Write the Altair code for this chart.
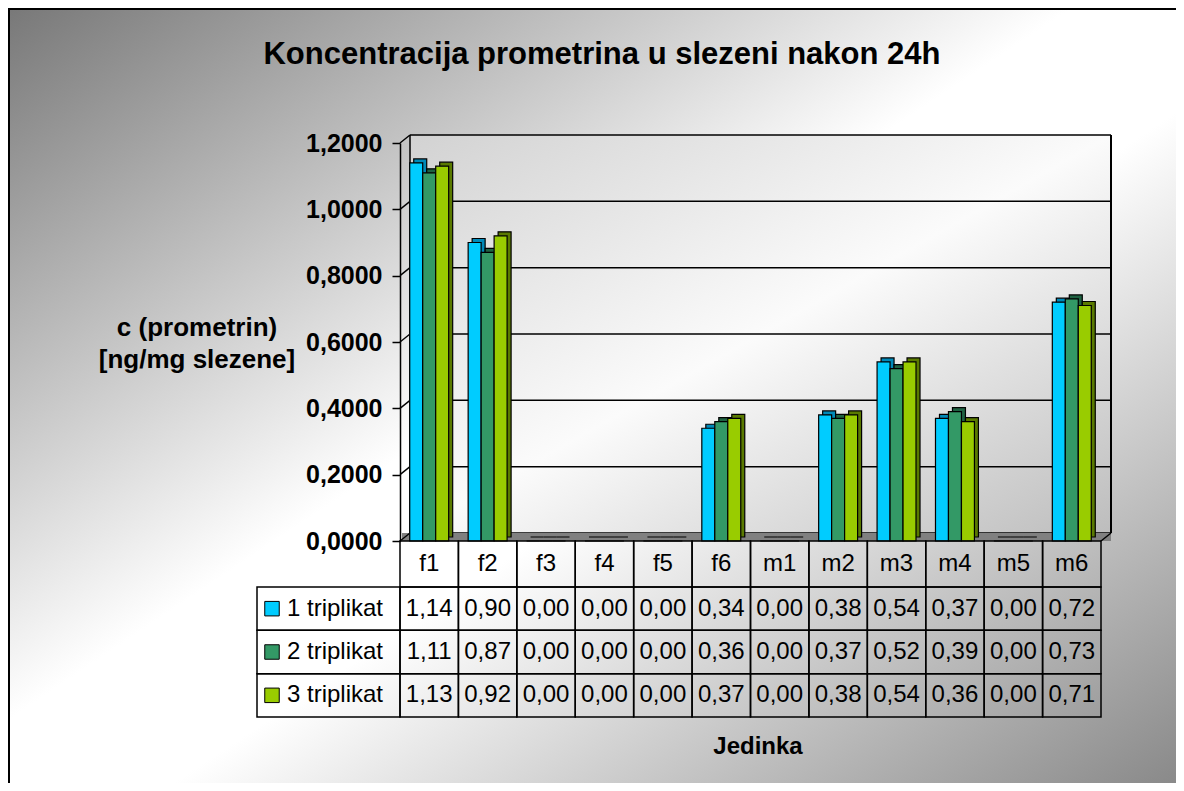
import altair as alt
import pandas as pd

# ---------------- data ----------------
cats = ["f1", "f2", "f3", "f4", "f5", "f6", "m1", "m2", "m3", "m4", "m5", "m6"]
series_names = ["1 triplikat", "2 triplikat", "3 triplikat"]
s1 = [1.14, 0.90, 0.00, 0.00, 0.00, 0.34, 0.00, 0.38, 0.54, 0.37, 0.00, 0.72]
s2 = [1.11, 0.87, 0.00, 0.00, 0.00, 0.36, 0.00, 0.37, 0.52, 0.39, 0.00, 0.73]
s3 = [1.13, 0.92, 0.00, 0.00, 0.00, 0.37, 0.00, 0.38, 0.54, 0.36, 0.00, 0.71]
tick_values = [0.0, 0.2, 0.4, 0.6, 0.8, 1.0, 1.2]
title_text = "Koncentracija prometrina u slezeni nakon 24h"
ytitle_lines = ["c (prometrin)", "[ng/mg slezene]"]
xtitle_text = "Jedinka"

# ---------------- styles ----------------
front_colors = ["#00CCFF", "#339966", "#99CC00"]
side_colors = ["#0089B8", "#1F6242", "#5A7A00"]
FONT = "Liberation Sans"
W, H = 701, 398          # front plane of the plot
DX, DY = 10, 8           # 3-D depth offset of the wall
D3 = 4                   # depth of the bars
LW = 1.5
STEP = W / len(cats)
PAD = {"left": 392, "top": 135, "right": 75, "bottom": 242}

rows = []
for name, vals in zip(series_names, [s1, s2, s3]):
    for c, v in zip(cats, vals):
        rows.append({"cat": c, "series": name, "value": v,
                     "label": f"{v:.2f}".replace(".", ",")})
df = pd.DataFrame(rows)
ticks_df = pd.DataFrame({"v": tick_values})
cats_df = pd.DataFrame({"cat": cats})
ser_df = pd.DataFrame({"series": series_names})
one = pd.DataFrame({"a": [0]})

xs = alt.Scale(domain=cats, paddingInner=0, paddingOuter=0)
ys = alt.Scale(domain=[0, 1.2], nice=False, zero=True)
X = alt.X("cat:N", scale=xs, axis=None)
row_scale = alt.Scale(domain=series_names, range=[444, 574], paddingInner=0, paddingOuter=0)
Yrow = alt.Y("series:N", scale=row_scale, axis=None)

bg_grad = alt.LinearGradient(
    gradient="linear", x1=0, y1=0, x2=1, y2=1,
    stops=[alt.GradientStop(offset=0, color="#787878"),
           alt.GradientStop(offset=0.45, color="#ffffff"),
           alt.GradientStop(offset=0.56, color="#ffffff"),
           alt.GradientStop(offset=1, color="#858585")])
wall_grad = alt.LinearGradient(
    gradient="linear", x1=0, y1=0, x2=1, y2=1,
    stops=[alt.GradientStop(offset=0, color="#d2d2d2"),
           alt.GradientStop(offset=0.5, color="#fbfbfb"),
           alt.GradientStop(offset=1, color="#bdbdbd")])

# background of the whole chart (runs past the right/bottom edge, clipped there)
bg = alt.Chart(one).mark_rect(fill=bg_grad, strokeWidth=0).encode(
    x=alt.value(-392), x2=alt.value(790), y=alt.value(-135), y2=alt.value(656))
border_left = alt.Chart(one).mark_rule(color="black", strokeWidth=2).encode(
    x=alt.value(-391), y=alt.value(-135), y2=alt.value(656))
border_top = alt.Chart(one).mark_rule(color="black", strokeWidth=2).encode(
    x=alt.value(-392), x2=alt.value(790), y=alt.value(-134))

# 3-D wall
wall = alt.Chart(one).mark_rect(fill=wall_grad, strokeWidth=0).encode(
    x=alt.value(DX), x2=alt.value(W + DX), y=alt.value(-DY), y2=alt.value(H - DY))
grid = alt.Chart(ticks_df).mark_rule(color="black", strokeWidth=LW, yOffset=-DY).encode(
    y=alt.Y("v:Q", scale=ys, axis=None), x=alt.value(DX), x2=alt.value(W + DX))
wall_left = alt.Chart(one).mark_rule(color="black", strokeWidth=LW).encode(
    x=alt.value(DX), y=alt.value(-DY), y2=alt.value(H - DY))
wall_right = alt.Chart(one).mark_rule(color="black", strokeWidth=2).encode(
    x=alt.value(W + DX), y=alt.value(-DY), y2=alt.value(H - DY))
floor = alt.Chart(one).mark_rect(fill="#808080", strokeWidth=0).encode(
    x=alt.value(2), x2=alt.value(W + DX), y=alt.value(H - DY), y2=alt.value(H))
tick_diag = alt.Chart(ticks_df).mark_rule(color="black", strokeWidth=LW, y2Offset=-DY).encode(
    y=alt.Y("v:Q", scale=ys, axis=None), y2="v:Q", x=alt.value(0), x2=alt.value(DX))
br_diag = alt.Chart(one).mark_rule(color="black", strokeWidth=LW).encode(
    x=alt.value(W), x2=alt.value(W + DX), y=alt.value(H), y2=alt.value(H - DY))

# bars (a darker copy shifted back/up gives the side and top faces)
xo_back = alt.XOffset("series:N", scale=alt.Scale(
    domain=series_names, paddingInner=0, paddingOuter=0.75, range=[D3, STEP + D3]))
xo_front = alt.XOffset("series:N", scale=alt.Scale(
    domain=series_names, paddingInner=0, paddingOuter=0.75, range=[0, STEP]))
bars_back = alt.Chart(df).mark_bar(yOffset=-D3, stroke="black", strokeWidth=1.2, opacity=1).encode(
    x=X, xOffset=xo_back,
    y=alt.Y("value:Q", scale=ys, axis=None),
    color=alt.Color("series:N", scale=alt.Scale(domain=series_names, range=side_colors), legend=None))
bars_front = alt.Chart(df).mark_bar(stroke="black", strokeWidth=1.2, opacity=1).encode(
    x=X, xOffset=xo_front,
    y=alt.Y("value:Q", scale=ys, axis=alt.Axis(
        values=tick_values, labelExpr="replace(format(datum.value, '.4f'), '.', ',')",
        grid=False, title=None, tickSize=8, tickWidth=LW, tickColor="black",
        domainColor="black", domainWidth=LW, labelFont=FONT, labelFontSize=25,
        labelFontWeight="bold", labelColor="black", labelPadding=10, zindex=1)),
    color=alt.Color("series:N", scale=alt.Scale(domain=series_names, range=front_colors), legend=None))

# data table
hdr_cells = alt.Chart(cats_df).mark_rect(fillOpacity=0, stroke="black", strokeWidth=LW).encode(
    x=X, y=alt.value(H), y2=alt.value(444))
hdr_text = alt.Chart(cats_df).mark_text(font=FONT, fontSize=24, color="black", baseline="middle").encode(
    x=X, y=alt.value(421), text="cat:N")
body_cells = alt.Chart(df).mark_rect(fillOpacity=0, stroke="black", strokeWidth=LW).encode(
    x=X, y=Yrow)
leg_cells = alt.Chart(ser_df).mark_rect(fillOpacity=0, stroke="black", strokeWidth=LW).encode(
    x=alt.value(-143), x2=alt.value(0), y=Yrow)
leg_sq = alt.Chart(ser_df).mark_square(size=210, filled=True, stroke="black", strokeWidth=1, opacity=1).encode(
    x=alt.value(-128), y=Yrow,
    color=alt.Color("series:N", scale=alt.Scale(domain=series_names, range=front_colors), legend=None))
leg_text = alt.Chart(ser_df).mark_text(font=FONT, fontSize=24, color="black", align="left", baseline="middle").encode(
    x=alt.value(-113), y=Yrow, text="series:N")
val_text = alt.Chart(df).mark_text(font=FONT, fontSize=24, color="black", baseline="middle").encode(
    x=X, y=Yrow, text="label:N")

# titles
title = alt.Chart(one).mark_text(font=FONT, fontSize=31, fontWeight="bold", color="black", baseline="middle").encode(
    x=alt.value(202), y=alt.value(-88), text=alt.value(title_text))
yt1 = alt.Chart(one).mark_text(font=FONT, fontSize=26, fontWeight="bold", color="black", baseline="middle").encode(
    x=alt.value(-203), y=alt.value(185), text=alt.value(ytitle_lines[0]))
yt2 = alt.Chart(one).mark_text(font=FONT, fontSize=26, fontWeight="bold", color="black", baseline="middle").encode(
    x=alt.value(-203), y=alt.value(217), text=alt.value(ytitle_lines[1]))
xt = alt.Chart(one).mark_text(font=FONT, fontSize=24, fontWeight="bold", color="black", baseline="middle").encode(
    x=alt.value(358), y=alt.value(604), text=alt.value(xtitle_text))

chart = alt.layer(
    bg, border_left, border_top,
    wall, grid, wall_left, wall_right, floor, tick_diag,
    bars_back, bars_front, br_diag,
    hdr_cells, hdr_text, body_cells, leg_cells, leg_sq, leg_text, val_text,
    title, yt1, yt2, xt,
).resolve_scale(y="independent", color="independent", xOffset="independent").properties(
    width=W, height=H, padding=PAD, autosize=alt.AutoSizeParams(type="none")
).configure_view(strokeWidth=0)

chart.save("out.html", embed_options={"renderer": "svg", "actions": False})
